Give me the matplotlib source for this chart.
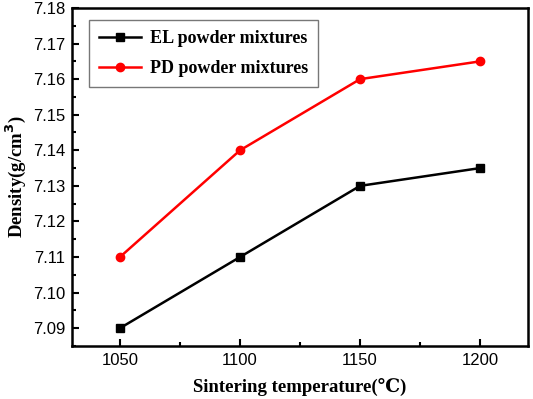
import matplotlib
matplotlib.use("Agg")
import matplotlib.pyplot as plt
from matplotlib.ticker import MultipleLocator, FormatStrFormatter

temperature = [1050, 1100, 1150, 1200]
el_density = [7.090, 7.110, 7.130, 7.135]
pd_density = [7.110, 7.140, 7.160, 7.165]

fig = plt.figure(figsize=(5.33, 3.99), dpi=100)
ax = fig.add_axes([0.135, 0.133, 0.856, 0.847])

ax.plot(temperature, el_density, color="black", lw=1.8, marker="s", ms=6,
        label="EL powder mixtures")
ax.plot(temperature, pd_density, color="red", lw=1.8, marker="o", ms=6,
        label="PD powder mixtures")

ax.set_xlim(1030, 1220)
ax.set_ylim(7.085, 7.18)
ax.set_xticks(temperature)
ax.xaxis.set_minor_locator(MultipleLocator(25))
ax.yaxis.set_major_locator(MultipleLocator(0.01))
ax.yaxis.set_minor_locator(MultipleLocator(0.005))
ax.yaxis.set_major_formatter(FormatStrFormatter("%.2f"))

ax.tick_params(which="both", direction="in", top=False, right=False, width=1.5)
ax.tick_params(which="major", length=5, labelsize=12, pad=5)
ax.tick_params(which="minor", length=3)
for lab in ax.get_xticklabels() + ax.get_yticklabels():
    lab.set_family("Liberation Sans")
for sp in ax.spines.values():
    sp.set_linewidth(1.8)

serif = {"family": ["Liberation Serif", "DejaVu Serif"], "weight": "bold", "size": 13.5}
ax.set_xlabel("Sintering temperature(\u2103)", fontdict=serif, labelpad=7)
ax.set_ylabel("Density(g/cm$^\\mathbf{3}$)", fontdict=serif, labelpad=3)

leg = ax.legend(loc="upper left", bbox_to_anchor=(0.018, 0.99),
                prop={"family": "Liberation Serif", "weight": "bold", "size": 13},
                fancybox=False, edgecolor="#555555", handlelength=2.3,
                borderpad=0.55, labelspacing=0.7, handletextpad=0.5)
leg.get_frame().set_linewidth(1.0)

fig.savefig("out.png", dpi=100)
